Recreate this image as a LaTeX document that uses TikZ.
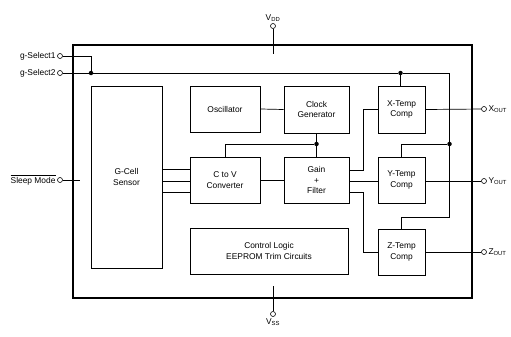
\documentclass[tikz,border=0pt]{standalone}
\usepackage{fontspec}
\setmainfont{Liberation Sans}
\begin{document}
\begin{tikzpicture}[x=1pt,y=-1pt,
  blk/.style={draw,line width=0.8pt,inner sep=0pt,align=center,font=\fontsize{8.4}{10.5}\selectfont},
  wire/.style={line width=0.7pt},
  pin/.style={circle,draw,line width=0.6pt,fill=white,inner sep=0pt,minimum size=5pt},
  jdot/.style={circle,fill,inner sep=0pt,minimum size=4.5pt},
  lbl/.style={font=\fontsize{8.4}{10.5}\selectfont,inner sep=1.5pt}]
\useasboundingbox (0,0) rectangle (511,337);
% chip outline
\node[draw,line width=1.3pt,minimum width=399pt,minimum height=253pt,inner sep=0pt] (chip) at (272.5,171.5) {};
% blocks
\node[blk,line width=0.95pt,minimum width=71pt,minimum height=182pt] (gcell) at (126.5,177) {G-Cell\\Sensor};
\node[blk,minimum width=70pt,minimum height=46pt] (osc) at (225,109) {Oscillator};
\node[blk,minimum width=65pt,minimum height=47pt] (clk) at (316.5,109.5) {Clock\\Generator};
\node[blk,minimum width=70pt,minimum height=46pt] (ctov) at (225,180) {C to V\\Converter};
\node[blk,minimum width=65pt,minimum height=46pt] (gain) at (316.5,180) {Gain\\+\\Filter};
\node[blk,minimum width=158pt,minimum height=46pt] (ctrl) at (269,251) {Control Logic\\EEPROM Trim Circuits};
\node[blk,minimum width=47pt,minimum height=47pt] (xt) at (401.5,109.5) {X-Temp\\Comp};
\node[blk,minimum width=47pt,minimum height=46pt] (yt) at (401.5,180) {Y-Temp\\Comp};
\node[blk,minimum width=47pt,minimum height=46pt] (zt) at (401.5,252) {Z-Temp\\Comp};
% pins
\node[pin] (gs1) at (60,56) {};
\node[pin] (gs2) at (60,73) {};
\node[pin] (slp) at (60,180) {};
\node[pin] (vdd) at (273,26) {};
\node[pin] (vss) at (273,314) {};
\node[pin] (xo) at (484,109) {};
\node[pin] (yo) at (484,181) {};
\node[pin] (zo) at (484,252) {};
% pin labels
\node[lbl,anchor=east] (gs1l) at (gs1.west) {g-Select1};
\node[lbl,anchor=east] (gs2l) at (gs2.west) {g-Select2};
\node[lbl,anchor=east] (slpl) at (slp.west) {$\overline{\mbox{Sleep Mode}}$};
\node[lbl,anchor=south] (vddl) at (vdd.north) {V\textsubscript{DD}};
\node[lbl,anchor=north] (vssl) at (vss.south) {V\textsubscript{SS}};
\node[lbl,anchor=west] (xol) at (xo.east) {X\textsubscript{OUT}};
\node[lbl,anchor=west] (yol) at (yo.east) {Y\textsubscript{OUT}};
\node[lbl,anchor=west] (zol) at (zo.east) {Z\textsubscript{OUT}};
% junction dots
\node[jdot] (d1) at (91,73) {};
\node[jdot] (d2) at (400.5,73) {};
\node[jdot] (d3) at (449.5,144) {};
\node[jdot] (d4) at (316.5,144) {};
% inner coordinates
\coordinate (slpe) at (80,180);
\coordinate (vdde) at (273,54);
\coordinate (vsse) at (273,286);
\coordinate (gtop) at (449.5,73);
\coordinate (gbot) at (449.5,217);
% wires
\draw[wire] (gs1) -| (d1);
\draw[wire] (gs2) -- (d1) -- (d2) -- (gtop) -- (gbot) -| (zt.north);
\draw[wire] (d2) -- (d2 |- xt.north);
\draw[wire] (d3) -| (yt.north);
\draw[wire] (slp) -- (slpe);
\draw[wire] (vdd) -- (vdde);
\draw[wire] (vss) -- (vsse);
\draw[wire] (osc.east) -- (clk.west);
\draw[wire] (clk.south) -- (d4) -- (gain.north);
\draw[wire] (d4) -| (ctov.north);
\draw[wire] (gcell.east |- 0,169) -- (ctov.west |- 0,169);
\draw[wire] (gcell.east |- 0,181) -- (ctov.west |- 0,181);
\draw[wire] (gcell.east |- 0,192) -- (ctov.west |- 0,192);
\draw[wire] (ctov.east) -- (gain.west);
\draw[wire] (gain.east |- 0,170) -- (363,170) |- (xt.west);
\draw[wire] (gain.east |- 0,181) -- (yt.west |- 0,181);
\draw[wire] (gain.east |- 0,192) -- (363,192) |- (zt.west);
\draw[wire] (xt.east) -- (xo);
\draw[wire] (yt.east |- yo) -- (yo);
\draw[wire] (zt.east) -- (zo);
\end{tikzpicture}
\end{document}
